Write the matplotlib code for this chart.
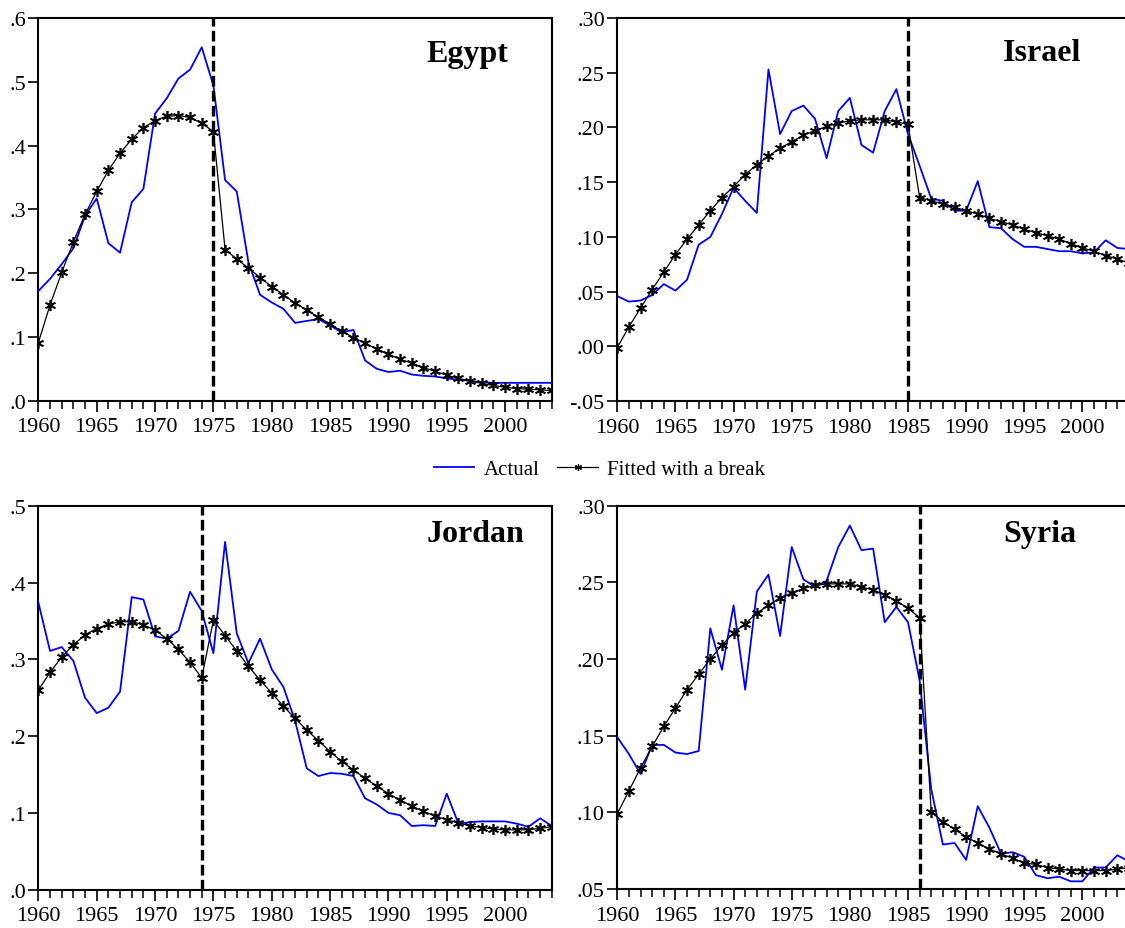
import matplotlib.pyplot as plt
import matplotlib.ticker as mticker
from matplotlib.lines import Line2D
import numpy as np

plt.rcParams['font.family'] = ['Liberation Serif', 'DejaVu Serif']

years = np.arange(1960, 2005)

egypt_actual = [0.172, 0.191, 0.214, 0.239, 0.290, 0.317, 0.247, 0.232, 0.311, 0.332,
                0.450, 0.474, 0.505, 0.519, 0.554, 0.494, 0.346, 0.328, 0.217, 0.166,
                0.154, 0.144, 0.122, 0.125, 0.128, 0.118, 0.107, 0.111, 0.063, 0.050,
                0.045, 0.047, 0.041, 0.039, 0.038, 0.035, 0.033, 0.031, 0.029, 0.028,
                0.028, 0.028, 0.028, 0.028, 0.028]
egypt_fitted = [0.091, 0.150, 0.201, 0.249, 0.292, 0.328, 0.361, 0.388, 0.410, 0.428,
                0.439, 0.446, 0.447, 0.444, 0.435, 0.422, 0.237, 0.222, 0.208, 0.193,
                0.179, 0.166, 0.153, 0.142, 0.131, 0.120, 0.109, 0.099, 0.090, 0.081,
                0.073, 0.065, 0.059, 0.052, 0.046, 0.040, 0.035, 0.031, 0.027, 0.024,
                0.021, 0.019, 0.018, 0.017, 0.016]

israel_actual = [0.046, 0.041, 0.042, 0.047, 0.057, 0.051, 0.061, 0.093, 0.100, 0.121,
                 0.145, 0.133, 0.122, 0.253, 0.194, 0.215, 0.220, 0.208, 0.172, 0.215,
                 0.227, 0.184, 0.177, 0.215, 0.235, 0.194, 0.165, 0.135, 0.133, 0.124,
                 0.124, 0.151, 0.109, 0.108, 0.098, 0.091, 0.091, 0.089, 0.087, 0.087,
                 0.085, 0.086, 0.097, 0.090, 0.089]
israel_fitted = [-0.001, 0.018, 0.035, 0.052, 0.068, 0.084, 0.098, 0.111, 0.124, 0.136,
                 0.146, 0.157, 0.166, 0.174, 0.181, 0.187, 0.193, 0.197, 0.201, 0.204,
                 0.206, 0.207, 0.207, 0.207, 0.205, 0.203, 0.136, 0.133, 0.130, 0.127,
                 0.124, 0.121, 0.117, 0.114, 0.111, 0.107, 0.104, 0.101, 0.098, 0.094,
                 0.090, 0.087, 0.083, 0.080, 0.076]

jordan_actual = [0.374, 0.311, 0.316, 0.298, 0.250, 0.230, 0.237, 0.258, 0.381, 0.378,
                 0.330, 0.327, 0.337, 0.388, 0.363, 0.308, 0.453, 0.334, 0.295, 0.327,
                 0.287, 0.264, 0.220, 0.158, 0.148, 0.152, 0.151, 0.148, 0.119, 0.111,
                 0.100, 0.097, 0.083, 0.084, 0.083, 0.125, 0.086, 0.088, 0.089, 0.089,
                 0.089, 0.086, 0.082, 0.093, 0.083]
jordan_fitted = [0.260, 0.283, 0.303, 0.319, 0.332, 0.340, 0.346, 0.349, 0.349, 0.345,
                 0.338, 0.327, 0.313, 0.296, 0.276, 0.351, 0.331, 0.311, 0.291, 0.273,
                 0.256, 0.239, 0.223, 0.208, 0.194, 0.180, 0.167, 0.156, 0.145, 0.135,
                 0.125, 0.117, 0.109, 0.102, 0.096, 0.091, 0.087, 0.083, 0.081, 0.079,
                 0.078, 0.078, 0.078, 0.080, 0.082]

syria_actual = [0.149, 0.138, 0.125, 0.144, 0.144, 0.139, 0.138, 0.140, 0.220, 0.193,
                0.235, 0.180, 0.244, 0.255, 0.215, 0.273, 0.252, 0.247, 0.251, 0.273,
                0.287, 0.271, 0.272, 0.224, 0.234, 0.224, 0.186, 0.115, 0.079, 0.080,
                0.069, 0.104, 0.090, 0.073, 0.074, 0.071, 0.059, 0.057, 0.058, 0.055,
                0.055, 0.064, 0.064, 0.072, 0.068]
syria_fitted = [0.099, 0.114, 0.129, 0.143, 0.156, 0.168, 0.180, 0.190, 0.200, 0.209,
                0.217, 0.223, 0.230, 0.235, 0.240, 0.243, 0.246, 0.248, 0.249, 0.249,
                0.249, 0.247, 0.245, 0.242, 0.238, 0.233, 0.227, 0.100, 0.094, 0.089,
                0.084, 0.080, 0.076, 0.073, 0.070, 0.067, 0.066, 0.064, 0.063, 0.062,
                0.062, 0.062, 0.062, 0.063, 0.064]

countries = ["Egypt", "Israel", "Jordan", "Syria"]
break_years = [1975, 1985, 1974, 1986]
y_limits = [(0.0, 0.6), (-0.05, 0.30), (0.0, 0.5), (0.05, 0.30)]
y_steps = [0.1, 0.05, 0.1, 0.05]
y_decimals = [1, 2, 1, 2]

# axes rectangles in figure fractions (left, bottom, width, height)
boxes = [
    (0.0341, 0.5676, 0.4564, 0.4120),
    (0.5487, 0.5670, 0.4548, 0.4126),
    (0.0341, 0.0412, 0.4564, 0.4133),
    (0.5487, 0.0420, 0.4548, 0.4126),
]
title_y = [0.888, 0.889, 0.909, 0.909]
title_x = [0.7565, 0.7543, 0.7565, 0.7543]

ast_marker = (6, 2, 0)


def dot_format(decimals):
    def fmt(v, pos):
        s = f"{v:.{decimals}f}"
        if s.startswith("-0"):
            return "-" + s[2:]
        if s.startswith("0"):
            return s[1:]
        return s
    return mticker.FuncFormatter(fmt)


def draw_panel(ax, name, actual, fitted, brk, ylim, step, dec, tx, ty):
    ax.plot(years, actual, color='#0000ff', lw=1.3, zorder=3)
    ax.plot(years, fitted, color='black', lw=0.9, marker=ast_marker,
            markersize=8, markeredgewidth=1.2, zorder=4)
    ax.axvline(brk, color='black', lw=2.4, linestyle=(0, (3.2, 1.3)), zorder=5)

    ax.set_xlim(1960, 2004)
    ax.set_ylim(*ylim)
    ax.xaxis.set_major_locator(mticker.MultipleLocator(5))
    ax.xaxis.set_minor_locator(mticker.MultipleLocator(1))
    ax.yaxis.set_major_locator(mticker.MultipleLocator(step))
    ax.yaxis.set_major_formatter(dot_format(dec))

    for s in ax.spines.values():
        s.set_linewidth(1.5)
    ax.tick_params(axis='both', which='major', direction='out',
                   width=1.2, labelsize=16, colors='black')
    ax.tick_params(axis='x', which='major', length=8, pad=4)
    ax.tick_params(axis='x', which='minor', direction='out', length=5.5, width=1.1)
    ax.tick_params(axis='y', which='major', length=7, pad=2)

    ax.text(tx, ty, name, transform=ax.transAxes, fontsize=23,
            fontweight='bold', ha='left', va='baseline')


fig = plt.figure(figsize=(11.25, 9.29), dpi=100)

all_actual = [egypt_actual, israel_actual, jordan_actual, syria_actual]
all_fitted = [egypt_fitted, israel_fitted, jordan_fitted, syria_fitted]

for i, name in enumerate(countries):
    ax = fig.add_axes(boxes[i])
    draw_panel(ax, name, all_actual[i], all_fitted[i], break_years[i],
               y_limits[i], y_steps[i], y_decimals[i], title_x[i], title_y[i])

handles = [
    Line2D([], [], color='#0000ff', lw=1.3),
    Line2D([], [], color='black', lw=0.9, marker=ast_marker,
           markersize=5, markeredgewidth=0.9),
]
fig.legend(handles, ["Actual", "Fitted with a break"], loc='center',
           bbox_to_anchor=(0.533, 0.4935), ncol=2, frameon=False, fontsize=15,
           handlelength=1.95, handletextpad=0.45, columnspacing=0.85)

fig.savefig("out.png", dpi=100)
